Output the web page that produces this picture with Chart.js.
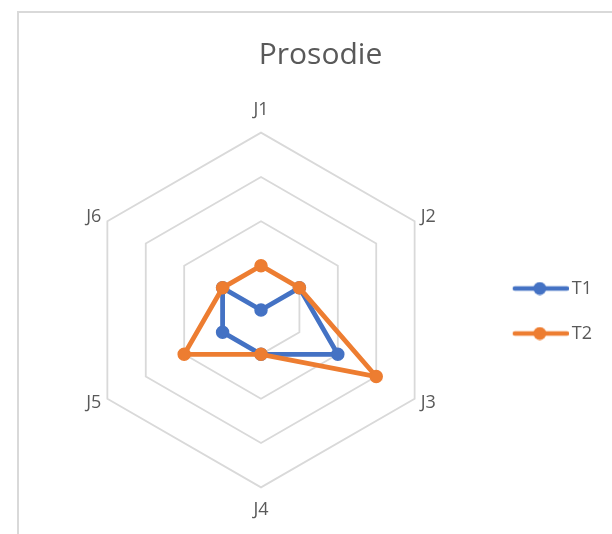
<!DOCTYPE html>
<html>
<head>
<meta charset="utf-8">
<script src="https://cdn.jsdelivr.net/npm/chart.js@4"></script>
<style>
  html, body { margin: 0; padding: 0; background: #fff; overflow: hidden; }
  #frame { position: absolute; left: 17px; top: 11px; width: 700px; height: 600px;
           border-left: 2px solid #d9d9d9; border-top: 2px solid #d9d9d9; }
  #chart { position: absolute; left: 0; top: 0; }
</style>
</head>
<body>
<div id="frame"></div>
<canvas id="chart" width="612" height="534"></canvas>
<script>
// Chart data
const axisLabels = ["J1", "J2", "J3", "J4", "J5", "J6"];
const seriesNames = ["T1", "T2"];
const t1Values = [0, 1, 2, 1, 1, 1];
const t2Values = [1, 1, 3, 1, 2, 1];
const scaleMin = 0;
const scaleMax = 4;
const scaleStep = 1;

const blue = "#4472C4";
const orange = "#ED7D31";
const textGrey = "#595959";

// legend symbol: line with a dot in the middle (Excel style)
function legendMarker(color) {
    let c = document.createElement("canvas");
    c.width = 64;
    c.height = 14;
    let g = c.getContext("2d");
    g.strokeStyle = color;
    g.lineWidth = 4.5;
    g.lineCap = "round";
    g.beginPath();
    g.moveTo(10, 7);
    g.lineTo(62, 7);
    g.stroke();
    g.fillStyle = color;
    g.beginPath();
    g.arc(35, 7, 6.5, 0, Math.PI * 2);
    g.fill();
    return c;
}

const markers = [legendMarker(blue), legendMarker(orange)];

var ctx = document.getElementById("chart").getContext("2d");
var myChart = new Chart(ctx, {
    type: "radar",
    data: {
        labels: axisLabels,
        datasets: [{
            label: seriesNames[0],
            data: t1Values,
            borderColor: blue,
            backgroundColor: blue,
            pointBackgroundColor: blue,
            pointBorderColor: blue,
            borderWidth: 4.8,
            pointRadius: 6,
            pointBorderWidth: 1.5,
            fill: false,
            order: 2
        }, {
            label: seriesNames[1],
            data: t2Values,
            borderColor: orange,
            backgroundColor: orange,
            pointBackgroundColor: orange,
            pointBorderColor: orange,
            borderWidth: 4.8,
            pointRadius: 6,
            pointBorderWidth: 1.5,
            fill: false,
            order: 1
        }]
    },
    options: {
        responsive: false,
        animation: false,
        layout: {
            padding: { left: 39, right: 10, top: 0, bottom: 12 }
        },
        elements: {
            line: { tension: 0 }
        },
        scales: {
            r: {
                min: scaleMin,
                max: scaleMax,
                ticks: { stepSize: scaleStep, display: false },
                angleLines: { display: false },
                grid: { color: "#d9d9d9", lineWidth: 1.8 },
                pointLabels: {
                    color: textGrey,
                    // top and bottom labels sit further out, side labels level with the corner
                    padding: (c) => (c.index == 0 || c.index == 3) ? 12 : 7,
                    font: (c) => ({
                        family: "'Open Sans', sans-serif",
                        size: 18,
                        lineHeight: (c.index == 0 || c.index == 3) ? 1.2 : 0.1
                    })
                }
            }
        },
        plugins: {
            title: {
                display: true,
                text: "Prosodie",
                color: textGrey,
                font: { family: "'Open Sans', sans-serif", size: 30, weight: "normal" },
                padding: { top: 37, bottom: 27 }
            },
            legend: {
                display: true,
                position: "right",
                align: "center",
                fullSize: false,
                labels: {
                    color: textGrey,
                    font: { family: "'Open Sans', sans-serif", size: 18 },
                    usePointStyle: true,
                    pointStyleWidth: 52,
                    padding: 27,
                    sort: (a, b) => a.datasetIndex - b.datasetIndex,
                    generateLabels: function (chart) {
                        let items = Chart.defaults.plugins.legend.labels.generateLabels(chart);
                        items.forEach(item => { item.pointStyle = markers[item.datasetIndex]; });
                        return items;
                    }
                }
            },
            tooltip: { enabled: false }
        }
    }
});
</script>
</body>
</html>
